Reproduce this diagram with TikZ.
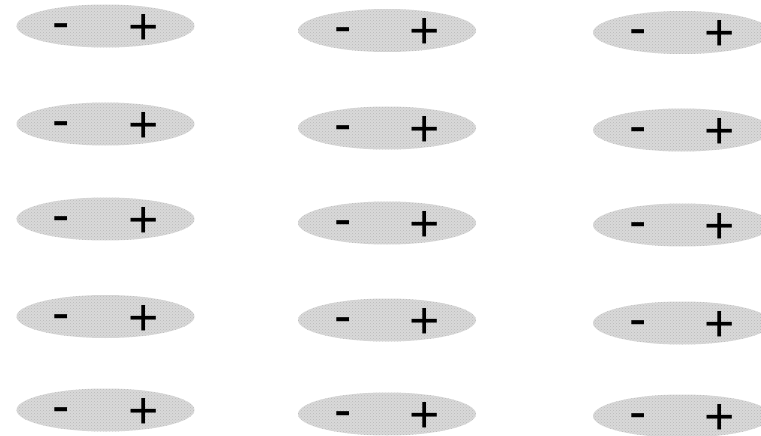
\documentclass[tikz,border=0pt]{standalone}
\usepackage{fontspec}
\setmainfont{Liberation Sans}
\usetikzlibrary{shapes.geometric,patterns}
\begin{document}
\begin{tikzpicture}[x=1pt,y=-1pt,
  blob/.style={ellipse, minimum width=178pt, minimum height=43pt, inner sep=0pt,
    fill=gray!30, draw=none, postaction={pattern=crosshatch dots, pattern color=gray!55}},
  sign/.style={font=\fontsize{52}{52}\selectfont, inner sep=0pt, anchor=base}]
\useasboundingbox (0,0) rectangle (761,436);
\clip (0,0) rectangle (761,436);
\foreach \n/\x/\y in {a1/105.5/26, a2/105.5/124, a3/105.5/219, a4/105.5/316.5, a5/105.5/410,
                      b1/387/30.5, b2/387/128, b3/387/223, b4/387/320, b5/387/414,
                      c1/682/32.5, c2/682/130, c3/682/225, c4/682/323, c5/682/416}{
  \node[blob] (e\n) at (\x,\y) {};
  \node[sign] (m\n) at ([xshift=-44pt,yshift=-13.5pt]e\n.center) {-};
  \node[sign] (p\n) at ([xshift=38pt,yshift=-18.5pt]e\n.center) {+};
}
\end{tikzpicture}
\end{document}
